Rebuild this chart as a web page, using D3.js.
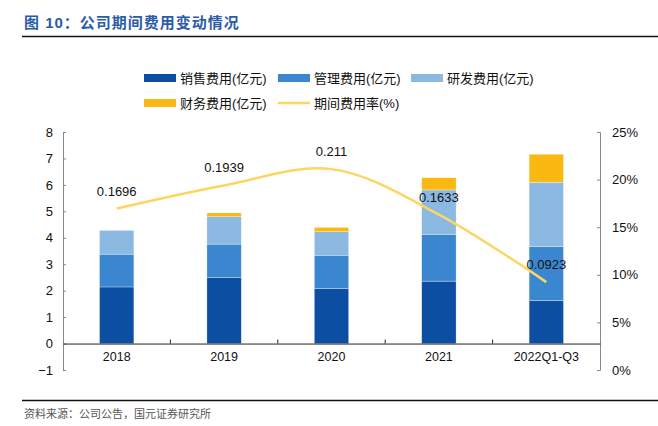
<!DOCTYPE html>
<html>
<head>
<meta charset="utf-8">
<script src="https://cdn.jsdelivr.net/npm/d3@7"></script>
<style>
  body { margin: 0; background: #fff; }
  svg text { font-family: Arial, "Liberation Sans", "Noto Sans CJK SC", sans-serif; }
</style>
</head>
<body>
<div id="chart"></div>
<script>
const categories = ["2018", "2019", "2020", "2021", "2022Q1-Q3"];
const sales = [2.14, 2.49, 2.08, 2.36, 1.63];
const admin = [1.24, 1.27, 1.26, 1.77, 2.03];
const rnd = [0.90, 1.04, 0.89, 1.68, 2.44];
const finance = [0.00, 0.14, 0.16, 0.46, 1.06];
const rate = [0.1696, 0.1939, 0.211, 0.1633, 0.0923];
const leftTicks = [-1, 0, 1, 2, 3, 4, 5, 6, 7, 8];
const rightTicks = [0, 0.05, 0.10, 0.15, 0.20, 0.25];

const seriesNames = ["销售费用(亿元)", "管理费用(亿元)", "研发费用(亿元)", "财务费用(亿元)"];
const colors = ["#0c4ea2", "#3a87d0", "#8cb9e1", "#f9b912"];
const lineColor = "#fdd563";

const W = 658, H = 426;
const margin = {top: 132, right: 58, bottom: 56, left: 63};
const width = W - margin.left - margin.right,
      height = H - margin.top - margin.bottom;

const svg = d3.select("#chart").append("svg")
  .attr("width", W).attr("height", H);

// title
svg.append("text")
  .attr("x", 24).attr("y", 28)
  .attr("fill", "#2b5ca8")
  .attr("font-size", 15).attr("font-weight", "bold")
  .attr("letter-spacing", 1)
  .text("图 10：公司期间费用变动情况");
svg.append("line").attr("x1", 22).attr("x2", W).attr("y1", 36.5).attr("y2", 36.5)
  .attr("stroke", "#111").attr("stroke-width", 1.5);

// source
svg.append("line").attr("x1", 22).attr("x2", W).attr("y1", 400.5).attr("y2", 400.5)
  .attr("stroke", "#111").attr("stroke-width", 1.5);
svg.append("text")
  .attr("x", 24).attr("y", 418)
  .attr("fill", "#555").attr("font-size", 11)
  .text("资料来源：公司公告，国元证券研究所");

const g = svg.append("g").attr("transform", "translate(" + margin.left + "," + margin.top + ")");

const x = d3.scaleBand().domain(categories).range([0, width]).paddingInner(0).paddingOuter(0);
const y = d3.scaleLinear().domain([-1, 8]).range([height, 0]);
const y2 = d3.scaleLinear().domain([0, 0.25]).range([height, 0]);

// stacked data
const table = categories.map((c, i) => ({cat: c, s0: sales[i], s1: admin[i], s2: rnd[i], s3: finance[i]}));
const stack = d3.stack().keys(["s0", "s1", "s2", "s3"])(table);

const barW = x.bandwidth() * 0.32;
g.selectAll("g.layer")
  .data(stack)
  .enter().append("g")
  .attr("class", "layer")
  .attr("fill", (d, i) => colors[i])
  .selectAll("rect")
  .data(d => d)
  .enter().append("rect")
  .attr("x", d => x(d.data.cat) + (x.bandwidth() - barW) / 2)
  .attr("y", d => y(d[1]))
  .attr("width", barW)
  .attr("height", d => Math.max(0, y(d[0]) - y(d[1])))
  .attr("stroke", "#ffffff").attr("stroke-opacity", 0.6).attr("stroke-width", 0.5);

// left axis
const yAxis = g.append("g")
  .call(d3.axisLeft(y).tickValues(leftTicks).tickSize(-3).tickPadding(10).tickFormat(d3.format("d")));
yAxis.select(".domain").attr("stroke", "#888");
yAxis.selectAll(".tick line").attr("stroke", "#888");
yAxis.selectAll("text").attr("font-size", 13).attr("fill", "#111");

// right axis
const y2Axis = g.append("g").attr("transform", "translate(" + width + ",0)")
  .call(d3.axisRight(y2).tickValues(rightTicks).tickSize(-3).tickPadding(12).tickFormat(d3.format(".0%")));
y2Axis.select(".domain").attr("stroke", "#888");
y2Axis.selectAll(".tick line").attr("stroke", "#888");
y2Axis.selectAll("text").attr("font-size", 13).attr("fill", "#111");

// x axis at zero
const xAxis = g.append("g").attr("transform", "translate(0," + y(0) + ")")
  .call(d3.axisBottom(x).tickSize(0).tickPadding(9));
xAxis.select(".domain").attr("stroke", "#222");
xAxis.selectAll("text").attr("font-size", 12.5).attr("fill", "#111");
// boundary ticks between categories
g.selectAll("line.bt")
  .data(categories.slice(1))
  .enter().append("line")
  .attr("class", "bt")
  .attr("x1", d => x(d)).attr("x2", d => x(d))
  .attr("y1", y(0)).attr("y2", y(0) - 4)
  .attr("stroke", "#222");

// rate line
const line = d3.line()
  .x((d, i) => x(categories[i]) + x.bandwidth() / 2)
  .y(d => y2(d))
  .curve(d3.curveCatmullRom.alpha(0.5));
g.append("path")
  .datum(rate)
  .attr("fill", "none")
  .attr("stroke", lineColor)
  .attr("stroke-width", 2.5)
  .attr("d", line);

g.selectAll("text.lbl")
  .data(rate)
  .enter().append("text")
  .attr("class", "lbl")
  .attr("x", (d, i) => x(categories[i]) + x.bandwidth() / 2)
  .attr("y", d => y2(d) - 13)
  .attr("text-anchor", "middle")
  .attr("font-size", 13).attr("fill", "#111")
  .text(d => String(d));

// legend
const legendItems = [
  {name: seriesNames[0], color: colors[0], type: "rect", x: 144, y: 78},
  {name: seriesNames[1], color: colors[1], type: "rect", x: 278, y: 78},
  {name: seriesNames[2], color: colors[2], type: "rect", x: 411, y: 78},
  {name: seriesNames[3], color: colors[3], type: "rect", x: 144, y: 103},
  {name: "期间费用率(%)", color: lineColor, type: "line", x: 278, y: 103}
];
const lg = svg.append("g");
legendItems.forEach(it => {
  if (it.type === "rect") {
    lg.append("rect").attr("x", it.x).attr("y", it.y - 4).attr("width", 32).attr("height", 8).attr("fill", it.color);
  } else {
    lg.append("line").attr("x1", it.x).attr("x2", it.x + 32).attr("y1", it.y).attr("y2", it.y)
      .attr("stroke", it.color).attr("stroke-width", 2.5);
  }
  lg.append("text").attr("x", it.x + 36).attr("y", it.y + 5)
    .attr("font-size", 13).attr("fill", "#111")
    .text(it.name);
});
</script>
</body>
</html>
